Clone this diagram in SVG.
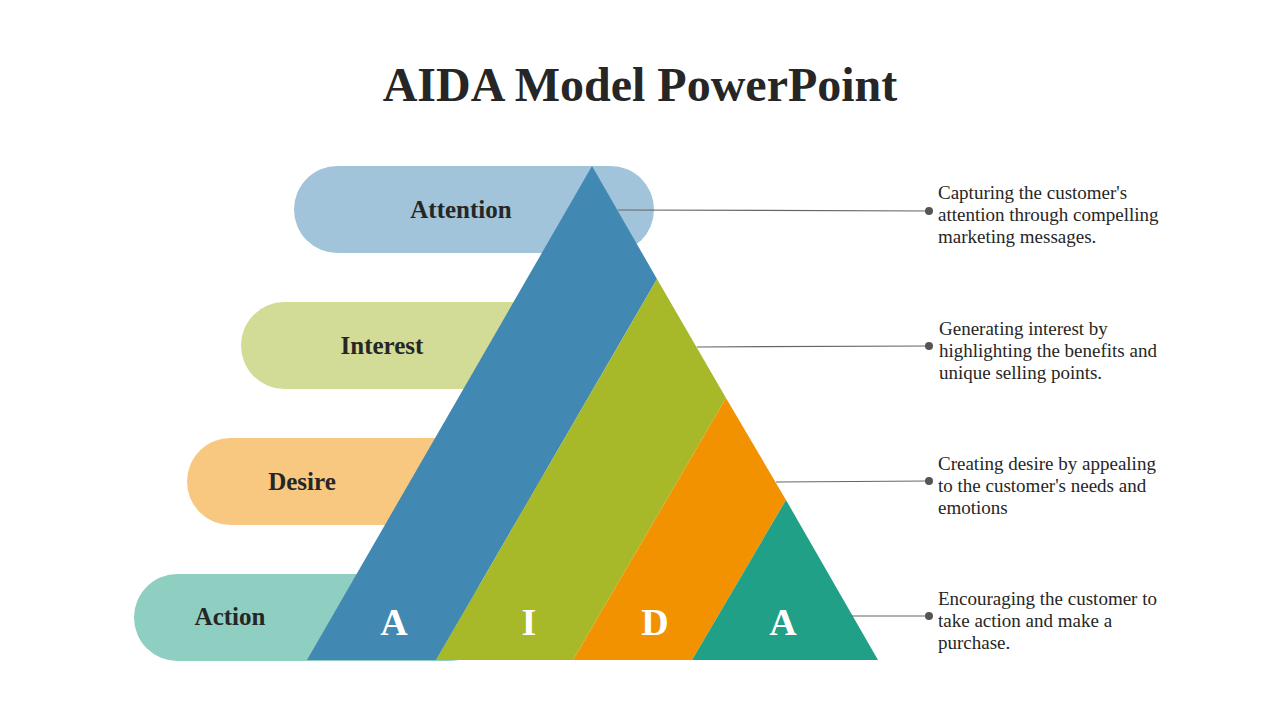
<svg xmlns="http://www.w3.org/2000/svg" width="1280" height="720" viewBox="0 0 1280 720">
<style>
.t{font-family:"Liberation Serif","DejaVu Serif",serif;fill:#262626}
.lbl{font-size:25px;font-weight:bold;text-anchor:middle}
.let{font-family:"Liberation Serif",serif;font-size:38px;font-weight:bold;fill:#fff;text-anchor:middle}
.d{font-size:19px}
.ln{stroke:#666;stroke-width:1.2}
</style>
<rect width="1280" height="720" fill="#fff"/>
<text class="t" x="640" y="101" font-size="48" font-weight="bold" text-anchor="middle">AIDA Model PowerPoint</text>
<g id="pill-attention"><rect x="294" y="166" width="360" height="87" rx="43.5" fill="#a1c4da"/></g>
<g id="pill-interest"><rect x="241" y="302" width="360" height="87" rx="43.5" fill="#d3dc96"/></g>
<g id="pill-desire"><rect x="187" y="438" width="360" height="87" rx="43.5" fill="#f9c880"/></g>
<g id="pill-action"><rect x="134" y="574" width="360" height="87" rx="43.5" fill="#8ecfc2"/></g>
<g id="tri-a"><polygon points="592,166 657,279 436,660 307,660" fill="#4189b3"/></g>
<g id="tri-i"><polygon points="657,279 726,398 573,660 436,660" fill="#a7b828"/></g>
<g id="tri-d"><polygon points="726,398 786,500 692,660 573,660" fill="#f39200"/></g>
<g id="tri-a2"><polygon points="786,500 878,660 692,660" fill="#20a086"/></g>
<text class="t lbl" x="461" y="218">Attention</text>
<text class="t lbl" x="382" y="354">Interest</text>
<text class="t lbl" x="302" y="490">Desire</text>
<text class="t lbl" x="230" y="625">Action</text>
<text class="let" x="394" y="635">A</text>
<text class="let" x="529" y="635">I</text>
<text class="let" x="655" y="635">D</text>
<text class="let" x="783" y="635">A</text>
<g id="connectors" fill="#555">
<line class="ln" x1="618" y1="210" x2="929" y2="211"/><circle cx="929" cy="211" r="4"/>
<line class="ln" x1="697" y1="347" x2="929" y2="346"/><circle cx="929" cy="346" r="4"/>
<line class="ln" x1="776" y1="482" x2="929" y2="481"/><circle cx="929" cy="481" r="4"/>
<line class="ln" x1="852" y1="616" x2="929" y2="616"/><circle cx="929" cy="616" r="4"/>
</g>
<text class="t d"><tspan x="938" y="199">Capturing the customer's</tspan><tspan x="938" y="221">attention through compelling</tspan><tspan x="938" y="243">marketing messages.</tspan></text>
<text class="t d"><tspan x="939" y="335">Generating interest by</tspan><tspan x="939" y="357">highlighting the benefits and</tspan><tspan x="939" y="379">unique selling points.</tspan></text>
<text class="t d"><tspan x="938" y="470">Creating desire by appealing</tspan><tspan x="938" y="492">to the customer's needs and</tspan><tspan x="938" y="514">emotions</tspan></text>
<text class="t d"><tspan x="938" y="605">Encouraging the customer to</tspan><tspan x="938" y="627">take action and make a</tspan><tspan x="938" y="649">purchase.</tspan></text>
</svg>
